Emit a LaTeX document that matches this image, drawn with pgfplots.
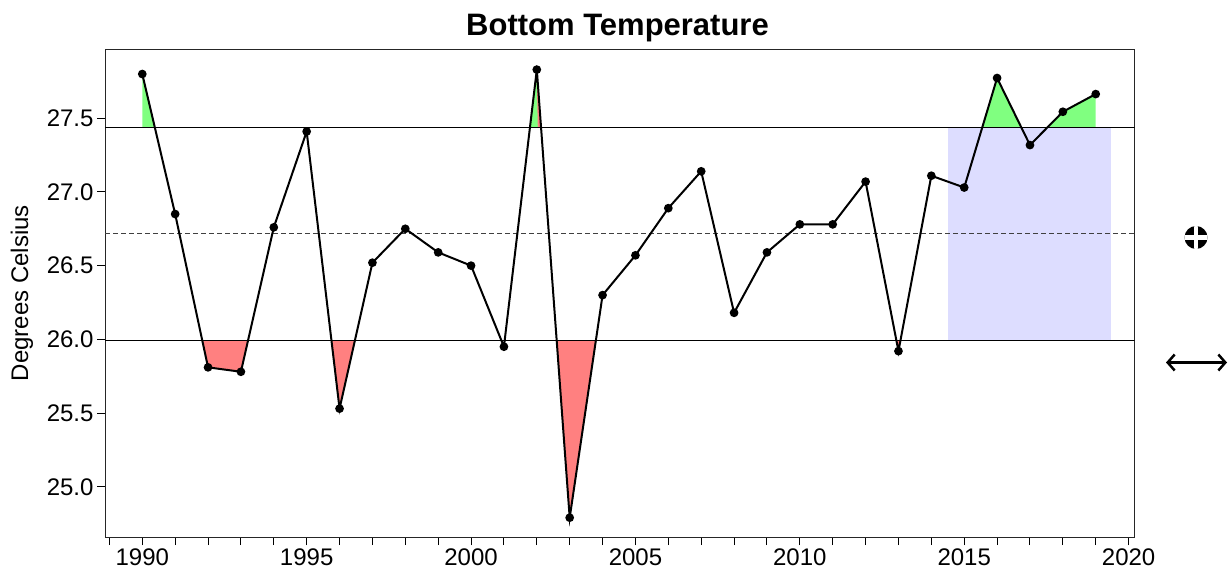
\documentclass[border=0pt]{standalone}
\usepackage{pgfplots}
\pgfplotsset{compat=1.18}
\usepackage{fontspec}
\setmainfont{Liberation Sans}
\usetikzlibrary{arrows.meta}
\definecolor{upgreen}{RGB}{128,255,128}
\definecolor{lowred}{RGB}{255,128,128}
\definecolor{boxblue}{RGB}{221,221,255}
\begin{document}
\begin{tikzpicture}[x=1pt,y=1pt]
\path[use as bounding box] (0,0) rectangle (1230,576);
\begin{axis}[
  at={(105pt,39pt)}, anchor=south west,
  scale only axis, width=1029.5pt, height=487pt,
  xmin=1988.866, xmax=2020.18, ymin=24.659, ymax=27.963,
  axis line style={black!85, line width=1pt},
  xtick={1990,1995,...,2020},
  minor xtick={1989,...,2020},
  ytick={25,25.5,...,27.5},
  xtick pos=bottom, ytick pos=left,
  tick align=outside,
  major tick length=8pt, minor tick length=8pt,
  every tick/.style={black, line width=1pt},
  minor tick style={black, line width=1pt},
  x tick label style={/pgf/number format/1000 sep={}, font=\fontsize{24}{28}\selectfont},
  y tick label style={/pgf/number format/fixed, /pgf/number format/precision=1, /pgf/number format/fixed zerofill, font=\fontsize{24}{28}\selectfont},
  /pgf/number format/assume math mode=true,
  xticklabel={\pgfmathprintnumber[1000 sep={}]{\tick}},
  clip=true,
]
% reference period box
\addplot[fill=boxblue, draw=none] coordinates {(2014.5,25.99) (2019.45,25.99) (2019.45,27.44) (2014.5,27.44)} --cycle;
% above upper threshold (green)
\addplot[fill=upgreen, draw=none] coordinates {(1990,27.44) (1990,27.80) (1990.379,27.44)} --cycle;
\addplot[fill=upgreen, draw=none] coordinates {(2001.791,27.44) (2002,27.83) (2002.128,27.44)} --cycle;
\addplot[fill=lowred, draw=none] coordinates {(2002.03,27.44) (2002,27.76) (2002.128,27.44)} --cycle;
\addplot[fill=upgreen, draw=none] coordinates {(2015.554,27.44) (2016,27.773) (2016.733,27.44)} --cycle;
\addplot[fill=upgreen, draw=none] coordinates {(2017.522,27.44) (2018,27.544) (2019,27.664) (2019,27.44)} --cycle;
% below lower threshold (red)
\addplot[fill=lowred, draw=none] coordinates {(1991.827,25.99) (1992,25.81) (1993,25.78) (1993.216,25.99)} --cycle;
\addplot[fill=lowred, draw=none] coordinates {(1995.755,25.99) (1996,25.53) (1996.465,25.99)} --cycle;
\addplot[fill=lowred, draw=none] coordinates {(2002.605,25.99) (2003,24.79) (2003.795,25.99)} --cycle;
\addplot[fill=lowred, draw=none] coordinates {(2012.939,25.99) (2013,25.92) (2013.059,25.99)} --cycle;
% thresholds and mean
\addplot[black, line width=1pt] coordinates {(1988.866,27.44) (2020.18,27.44)};
\addplot[black, line width=1pt] coordinates {(1988.866,25.99) (2020.18,25.99)};
\addplot[black!75, line width=1pt, dash pattern=on 5pt off 3pt] coordinates {(1988.866,26.72) (2020.18,26.72)};
% series
\addplot[black, line width=2pt, mark=*, mark size=3.3pt, mark options={fill=black}] table {
x y
1990 27.80
1991 26.85
1992 25.81
1993 25.78
1994 26.76
1995 27.41
1996 25.53
1997 26.52
1998 26.75
1999 26.59
2000 26.50
2001 25.95
2002 27.83
2003 24.79
2004 26.30
2005 26.57
2006 26.89
2007 27.14
2008 26.18
2009 26.59
2010 26.78
2011 26.78
2012 27.07
2013 25.92
2014 27.11
2015 27.03
2016 27.773
2017 27.318
2018 27.544
2019 27.664
};
\end{axis}
% title and axis label
\node[anchor=base, font=\bfseries\fontsize{31}{36}\selectfont] at (617.5,540) {Bottom Temperature};
\node[anchor=base, rotate=90, font=\fontsize{24}{28}\selectfont] at (28,283) {Degrees Celsius};
% side symbols
\fill[black] (1196,338.5) circle (11.5);
\begin{scope}
\clip (1196,338.5) circle (11.5);
\draw[white, line width=4.5pt] (1180,338.5) -- (1212,338.5);
\draw[white, line width=4.5pt] (1196,322) -- (1196,355);
\end{scope}
\draw[black, line width=2.5pt, {Straight Barb[length=7pt,width=16pt]}-{Straight Barb[length=7pt,width=16pt]}] (1166,213.5) -- (1227,213.5);
\end{tikzpicture}
\end{document}
